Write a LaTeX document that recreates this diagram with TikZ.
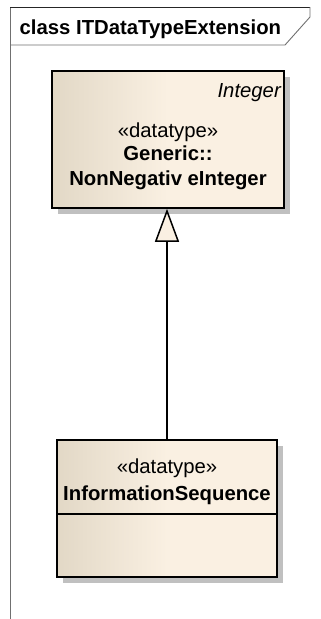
\documentclass[tikz,border=0pt]{standalone}
\usepackage{fontspec}
\setmainfont{Liberation Sans}
\usetikzlibrary{arrows.meta,shadows}
\definecolor{boxL}{HTML}{E2D8C6}
\definecolor{boxR}{HTML}{FAF0E2}
\definecolor{shadowgray}{HTML}{C0C0C0}
\definecolor{framegray}{HTML}{707070}
\pgfdeclarehorizontalshading{eabox}{100bp}{color(0bp)=(boxL); color(25bp)=(boxL); color(50bp)=(boxR); color(100bp)=(boxR)}
\tikzset{
  classbox/.style={draw=black, line width=1.6pt, shading=eabox, inner sep=0pt,
    drop shadow={shadow xshift=6pt, shadow yshift=-6pt, fill=shadowgray, opacity=1}},
  txt/.style={anchor=base, inner sep=0pt, font=\fontsize{20.3}{22}\selectfont},
  btxt/.style={txt, font=\fontsize{20.3}{22}\selectfont\bfseries},
  frameline/.style={draw=framegray, line width=0.9pt},
  gen/.style={line width=1.5pt, -{Triangle[length=33pt,width=24pt,fill=boxR,line width=1.5pt]}}
}
\begin{document}
\begin{tikzpicture}[x=1pt,y=-1pt]
\useasboundingbox (0,0) rectangle (321,619);
\fill[white] (0,0) rectangle (321,619);
% frame
\draw[frameline] (10,619) -- (10,7);
\draw[frameline, draw=black!85] (10,7) -- (310,7);
\draw[frameline] (310,7) -- (310,17) -- (285,45) -- (10,45);
\node[anchor=base west, inner sep=0pt, font=\fontsize{20.3}{22}\selectfont\bfseries] (title) at (19.5,34) {class ITDataTypeExtension};
% upper box
\node[classbox, minimum width=232pt, minimum height=137pt] (sup) at (168,139.5) {};
\node[txt, anchor=base east, font=\fontsize{20.3}{22}\selectfont\itshape] (supabs) at (281,97) {Integer};
\node[txt] (supst) at (168,137) {«datatype»};
\node[btxt] (supns) at (168,160) {Generic::};
\node[btxt] (supnm) at (168,185) {NonNegativ eInteger};
% lower box
\node[classbox, minimum width=220pt, minimum height=137pt] (sub) at (167,508.5) {};
\draw[line width=1.6pt] (sub.west |- 0,514) coordinate (dl) -- (sub.east |- 0,514) coordinate (dr);
\node[txt] (subst) at (167,473) {«datatype»};
\node[btxt] (subnm) at (167,500) {InformationSequence};
% generalization
\draw[gen] (sub.north) -- (sub.north |- sup.south);
\end{tikzpicture}
\end{document}
